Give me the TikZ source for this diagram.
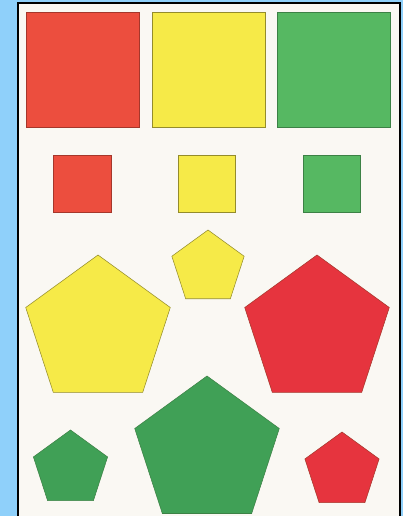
\documentclass[tikz,border=0pt]{standalone}
\usepackage{tikz}
\definecolor{frameblue}{RGB}{143,208,250}
\definecolor{paper}{RGB}{250,248,243}
\definecolor{shapered}{RGB}{236,78,62}
\definecolor{pentred}{RGB}{230,52,62}
\definecolor{shapeyellow}{RGB}{246,234,72}
\definecolor{shapegreen}{RGB}{86,184,98}
\definecolor{pentgreen}{RGB}{64,160,86}
\tikzset{redfig/.style={fill=shapered,draw=shapered!70!black,line width=.4pt},
 yellowfig/.style={fill=shapeyellow,draw=shapeyellow!60!black,line width=.4pt},
 greenfig/.style={fill=shapegreen,draw=shapegreen!70!black,line width=.4pt}}
% pentagon: centre, circumradius
\newcommand{\penta}[3]{\draw[#1] ($(#2)+(90:#3)$)--($(#2)+(162:#3)$)--($(#2)+(234:#3)$)
 --($(#2)+(306:#3)$)--($(#2)+(18:#3)$)--cycle;}
\usetikzlibrary{calc}

\begin{document}
\begin{tikzpicture}[x=0.75pt,y=0.75pt]
\useasboundingbox (0,0) rectangle (403,516);
\fill[frameblue] (0,0) rectangle (403,516);
\fill[paper] (18,0) rectangle (400,513);
\draw[black,line width=1.8pt] (18,0)--(18,513)--(400,513)--(400,0);
% big squares
\draw[redfig] (26,389) rectangle (139,504);
\draw[yellowfig] (152,389) rectangle (265,504);
\draw[greenfig] (277,389) rectangle (390,504);
% small squares
\draw[redfig] (53,304) rectangle (111,361);
\draw[yellowfig] (178,304) rectangle (235,361);
\draw[greenfig] (303,304) rectangle (360,361);
% pentagons
\penta{yellowfig}{208,248}{38}
\penta{yellowfig}{98,185}{76}
\penta{redfig,fill=pentred}{317,185}{76}
\penta{greenfig,fill=pentgreen}{207,64}{76}
\penta{greenfig,fill=pentgreen}{70.5,47}{39}
\penta{redfig,fill=pentred}{342,45}{39}
\end{tikzpicture}
\end{document}
